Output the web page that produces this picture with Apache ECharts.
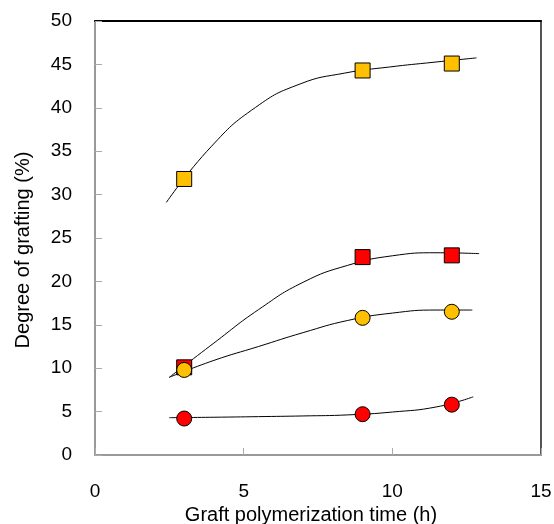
<!DOCTYPE html>
<html>
<head>
<meta charset="utf-8">
<script src="https://cdn.jsdelivr.net/npm/echarts@6/dist/echarts.min.js"></script>
<style>
html,body{margin:0;padding:0;background:#fff;}
#c{width:554px;height:524px;}
</style>
</head>
<body>
<div id="c"></div>
<script>
// Data
const times = [3, 9, 12];
const orangeSquare = [31.8, 44.3, 45.1];
const redSquare = [10.1, 22.8, 23.0];
const orangeCircle = [9.8, 15.8, 16.5];
const redCircle = [4.2, 4.7, 5.8];

// Trend curves
const trendOrangeSquare = [[2.4, 29.1], [3.9, 35.5], [5.4, 40.05], [6.9, 42.75], [8.4, 44.0], [9.9, 44.7], [11.4, 45.25], [12.83, 45.75]];
const trendRedSquare = [[2.5, 8.95], [4.0, 12.9], [5.5, 16.75], [7.0, 19.9], [8.5, 21.85], [10.0, 22.95], [11.5, 23.3], [12.92, 23.2]];
const trendOrangeCircle = [[2.5, 8.95], [4.0, 10.9], [5.5, 12.5], [7.0, 14.1], [8.5, 15.5], [10.0, 16.35], [11.5, 16.7], [12.69, 16.7]];
const trendRedCircle = [[2.5, 4.3], [4.0, 4.35], [5.5, 4.42], [7.0, 4.5], [8.5, 4.62], [10.0, 4.95], [11.5, 5.55], [12.72, 6.7]];

const xTicks = [0, 5, 10, 15];
const yTicks = [0, 5, 10, 15, 20, 25, 30, 35, 40, 45, 50];

const FONT = 'Liberation Sans, Arial, sans-serif';
const chart = echarts.init(document.getElementById('c'), null, {renderer: 'canvas'});

function pts(vals) { return times.map((t, i) => [t, vals[i]]); }
function trend(d) {
  return {type: 'line', data: d, smooth: 0.5, showSymbol: false, silent: true,
    lineStyle: {color: '#000', width: 1}, z: 2, animation: false};
}
function marks(vals, symbol, color) {
  return {type: 'scatter', data: pts(vals), symbol: symbol, symbolSize: 15,
    itemStyle: {color: color, borderColor: '#000', borderWidth: 1, opacity: 1}, z: 5, animation: false};
}

chart.setOption({
  animation: false,
  backgroundColor: '#fff',
  grid: {left: 95, top: 21, right: 13, bottom: 69, containLabel: false, outerBoundsMode: 'none'},
  xAxis: [{
    type: 'value', min: xTicks[0], max: xTicks[xTicks.length - 1], interval: 5, position: 'bottom',
    name: 'Graft polymerization time (h)', nameLocation: 'middle', nameGap: 46,
    nameTextStyle: {fontFamily: FONT, fontSize: 20, color: '#000', padding: [0, 14, 0, 0]},
    axisLine: {show: true, onZero: false, lineStyle: {color: '#999', width: 2}},
    axisTick: {show: true, inside: true, length: 7, lineStyle: {color: '#aaa', width: 1}},
    axisLabel: {fontFamily: FONT, fontSize: 19, color: '#000', margin: 27},
    splitLine: {show: false}
  }, {
    type: 'value', min: 0, max: 15, position: 'top',
    axisLine: {show: true, onZero: false, lineStyle: {color: '#000', width: 2}},
    axisTick: {show: false}, axisLabel: {show: false}, splitLine: {show: false}
  }],
  yAxis: [{
    type: 'value', min: yTicks[0], max: yTicks[yTicks.length - 1], interval: 5, position: 'left',
    name: 'Degree of grafting (%)', nameLocation: 'middle', nameGap: 62,
    nameTextStyle: {fontFamily: FONT, fontSize: 20, color: '#000', padding: [0, 24, 0, 0]},
    axisLine: {show: true, onZero: false, lineStyle: {color: '#999', width: 2}},
    axisTick: {show: true, inside: true, length: 7, lineStyle: {color: '#aaa', width: 1}},
    axisLabel: {fontFamily: FONT, fontSize: 19, color: '#000', margin: 23},
    splitLine: {show: false}
  }, {
    type: 'value', min: 0, max: 50, position: 'right',
    axisLine: {show: true, onZero: false, lineStyle: {color: '#555', width: 2}},
    axisTick: {show: false}, axisLabel: {show: false}, splitLine: {show: false}
  }],
  series: [
    trend(trendOrangeSquare),
    trend(trendRedSquare),
    trend(trendOrangeCircle),
    trend(trendRedCircle),
    marks(redCircle, 'circle', '#FF0000'),
    marks(redSquare, 'rect', '#FF0000'),
    marks(orangeCircle, 'circle', '#FFC000'),
    marks(orangeSquare, 'rect', '#FFC000')
  ]
});
</script>
</body>
</html>
